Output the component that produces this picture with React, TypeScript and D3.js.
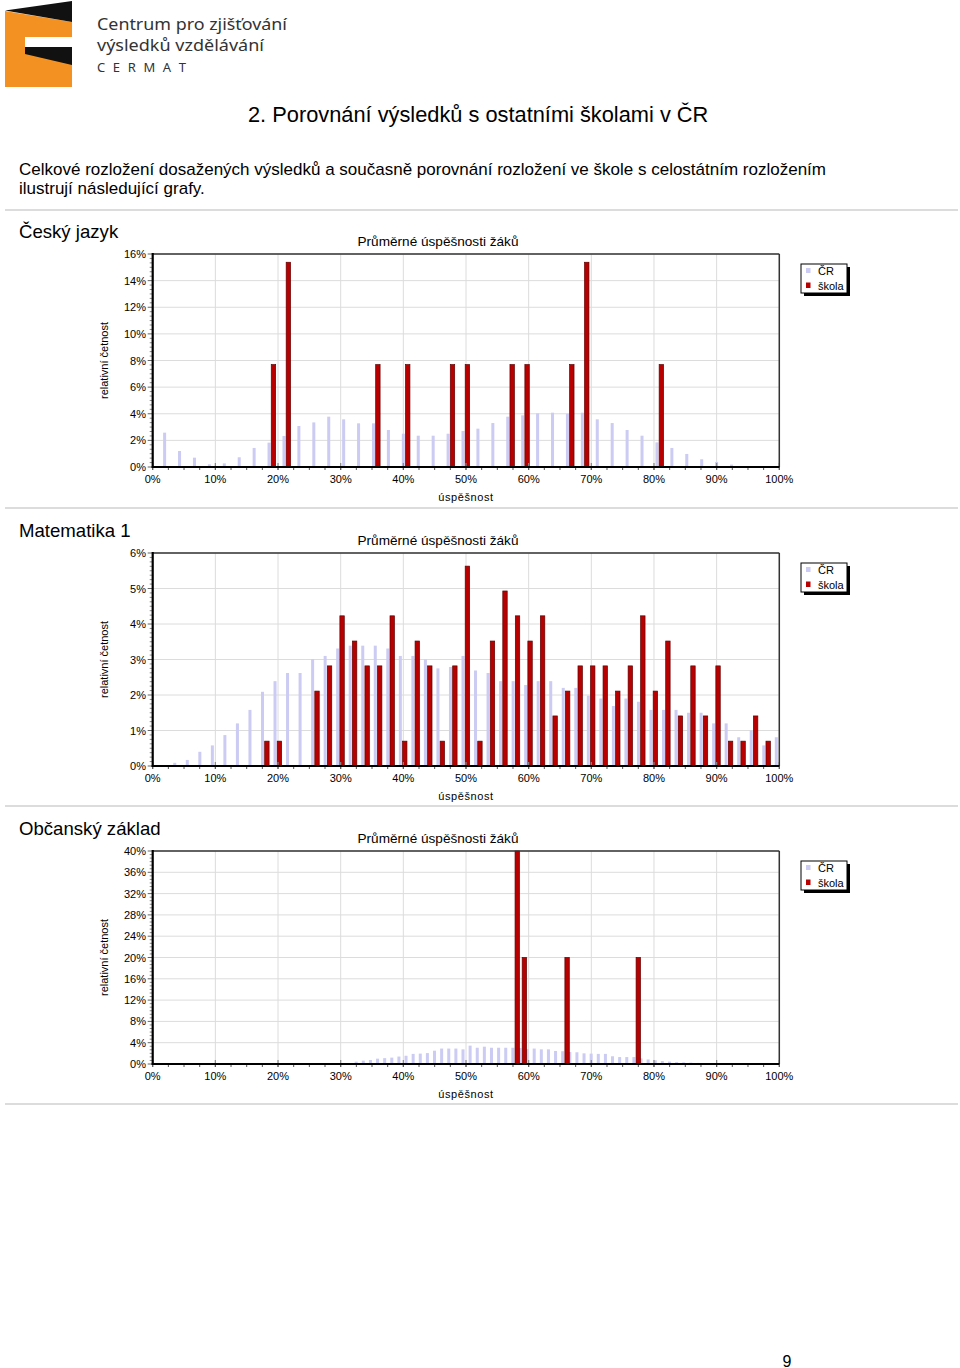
import React from "react";
import * as d3 from "d3";

// --- page text ---
const logoLines = ["Centrum pro zjišťování", "výsledků vzdělávání", "C E R M A T"];
const pageHeading = "2. Porovnání výsledků s ostatními školami v ČR";
const introLines = [
  "Celkové rozložení dosažených výsledků a současně porovnání rozložení ve škole s celostátním rozložením",
  "ilustrují následující grafy.",
];
const chartTitle = "Průměrné úspěšnosti žáků";
const xAxisLabel = "úspěšnost";
const yAxisLabel = "relativní četnost";
const legendLabels = ["ČR", "škola"];
const xTicks = [0, 10, 20, 30, 40, 50, 60, 70, 80, 90, 100];

// --- Český jazyk (score bins 0..42) ---
const cjMaxPoints = 42;
const cjCrFirst = 1;
const cjCr = [
  2.58, 1.2, 0.7, 0.2, 0.27, 0.73, 1.43, 1.83, 2.33, 3.08, 3.35, 3.78, 3.58, 3.28, 3.28, 2.78,
  2.5, 2.35, 2.35, 2.5, 2.7, 2.88, 3.3, 3.78, 3.88, 4.03, 4.08, 4.0, 4.08, 3.58, 3.3, 2.78,
  2.35, 1.85, 1.43, 0.98, 0.58, 0.38, 0.18, 0.05,
];
const cjSchoolPoints = [8, 9, 15, 17, 20, 21, 24, 25, 28, 29, 34];
const cjSchool = [7.69, 15.38, 7.69, 7.69, 7.69, 7.69, 7.69, 7.69, 7.69, 15.38, 7.69];
const cjYTicks = [0, 2, 4, 6, 8, 10, 12, 14, 16];

// --- Matematika 1 (score bins 0..50) ---
const mMaxPoints = 50;
const mCrFirst = 2;
const mCr = [
  0.09, 0.17, 0.4, 0.58, 0.87, 1.2, 1.58, 2.09, 2.39, 2.62, 2.62, 3.01, 3.1, 3.31, 3.39, 3.39,
  3.39, 3.31, 3.1, 3.1, 3.0, 2.75, 2.79, 3.1, 2.69, 2.62, 2.39, 2.39, 2.28, 2.39, 2.39, 2.2,
  2.2, 1.98, 1.9, 1.69, 1.9, 1.81, 1.58, 1.58, 1.58, 1.5, 1.5, 1.2, 1.2, 0.81, 1.0, 0.58, 0.81,
];
const mSchoolPoints = [
  9, 10, 13, 14, 15, 16, 17, 18, 19, 20, 21, 22, 23, 24, 25, 26, 27, 28, 29, 30, 31, 32, 33,
  34, 35, 36, 37, 38, 39, 40, 41, 42, 43, 44, 45, 46, 47, 48, 49,
];
const mSchool = [
  0.7, 0.7, 2.11, 2.82, 4.23, 3.52, 2.82, 2.82, 4.23, 0.7, 3.52, 2.82, 0.7, 2.82, 5.63, 0.7,
  3.52, 4.93, 4.23, 3.52, 4.23, 1.41, 2.11, 2.82, 2.82, 2.82, 2.11, 2.82, 4.23, 2.11, 3.52,
  1.41, 2.82, 1.41, 2.82, 0.7, 0.7, 1.41, 0.7,
];
const mYTicks = [0, 1, 2, 3, 4, 5, 6];

// --- Občanský základ (score bins 0..88) ---
const ozMaxPoints = 88;
const ozCrFirst = 29;
const ozCr = [
  0.44, 0.63, 0.75, 1.0, 1.1, 1.2, 1.4, 1.55, 1.9, 1.95, 2.05, 2.5, 2.9, 2.9, 2.9, 2.75, 3.45,
  3.05, 3.25, 3.05, 3.05, 3.05, 3.05, 3.0, 2.8, 2.9, 2.75, 2.75, 2.45, 2.4, 2.25, 2.2, 2.0,
  1.95, 1.9, 1.9, 1.45, 1.3, 1.3, 1.3, 1.05, 0.85, 0.7, 0.55, 0.45, 0.35, 0.3, 0.25, 0.2,
];
const ozSchoolPoints = [51, 52, 58, 68];
const ozSchool = [40, 20, 20, 20];
const ozYTicks = [0, 4, 8, 12, 16, 20, 24, 28, 32, 36, 40];

const FONT = "'Liberation Sans', Arial, sans-serif";
const CR_COLOR = "#cbcbf3";
const SCHOOL_COLOR = "#b80000";

const PLOT_LEFT = 152.7;
const PLOT_RIGHT = 779.3;
const PLOT_H = 213;

function Histogram({ top, name, maxPoints, crFirst, cr, schoolPoints, school, yTicks, yMinor }) {
  const x = d3.scaleLinear().domain([0, 100]).range([PLOT_LEFT, PLOT_RIGHT]);
  const y = d3.scaleLinear().domain([0, yTicks[yTicks.length - 1]]).range([top + PLOT_H, top]);
  const pos = (p) => x((p / maxPoints) * 100);
  const base = y(0);
  const step = yTicks[1] - yTicks[0];
  const minorY = [];
  yTicks.slice(0, -1).forEach((t) => {
    for (let k = 1; k < yMinor; k++) minorY.push(t + (step * k) / yMinor);
  });
  const minorX = d3.range(0, 100.01, 2.5);

  return (
    <g fontFamily={FONT}>
      <text x={19} y={top - 23} fontSize={18.6} dominantBaseline="central" fill="#000">
        {name}
      </text>
      <text x={438} y={top - 13} fontSize={13.6} textAnchor="middle" dominantBaseline="central">
        {chartTitle}
      </text>
      {/* grid */}
      {xTicks.map((t) => (
        <line key={"gx" + t} x1={x(t)} x2={x(t)} y1={top} y2={base} stroke="#dcdcdc" strokeWidth={1} />
      ))}
      {yTicks.map((t) => (
        <line key={"gy" + t} x1={PLOT_LEFT} x2={PLOT_RIGHT} y1={y(t)} y2={y(t)} stroke="#dcdcdc" strokeWidth={1} />
      ))}
      {/* CR bars */}
      {cr.map((v, i) => (
        <rect
          key={"cr" + i}
          x={pos(crFirst + i) - 4.5}
          y={y(v)}
          width={3}
          height={base - y(v)}
          fill={CR_COLOR}
        />
      ))}
      {/* school bars */}
      {school.map((v, i) => (
        <rect
          key={"sk" + i}
          x={pos(schoolPoints[i]) - 0.8}
          y={y(v)}
          width={4.4}
          height={base - y(v)}
          fill={SCHOOL_COLOR}
          stroke="#600000"
          strokeWidth={0.7}
        />
      ))}
      {/* inner major x ticks */}
      {xTicks.map((t) => (
        <line key={"tx" + t} x1={x(t)} x2={x(t)} y1={base - 4} y2={base + 3} stroke="#888" strokeWidth={1.2} />
      ))}
      {minorX.map((t) => (
        <line key={"mx" + t} x1={x(t)} x2={x(t)} y1={base} y2={base + 3} stroke="#555" strokeWidth={1} />
      ))}
      {/* y ticks */}
      {yTicks.map((t) => (
        <line key={"ty" + t} x1={PLOT_LEFT - 5} x2={PLOT_LEFT} y1={y(t)} y2={y(t)} stroke="#666" strokeWidth={1} />
      ))}
      {minorY.map((t, i) => (
        <line key={"my" + i} x1={PLOT_LEFT - 3} x2={PLOT_LEFT} y1={y(t)} y2={y(t)} stroke="#888" strokeWidth={1} />
      ))}
      {/* frame */}
      <line x1={PLOT_LEFT} x2={PLOT_RIGHT} y1={top} y2={top} stroke="#333" strokeWidth={1.5} />
      <line x1={PLOT_RIGHT} x2={PLOT_RIGHT} y1={top} y2={base} stroke="#333" strokeWidth={1.5} />
      <line x1={PLOT_LEFT} x2={PLOT_LEFT} y1={top - 1} y2={base + 1} stroke="#000" strokeWidth={2.2} />
      <line x1={PLOT_LEFT - 1} x2={PLOT_RIGHT} y1={base} y2={base} stroke="#000" strokeWidth={2.2} />
      {/* tick labels */}
      {yTicks.map((t) => (
        <text key={"ly" + t} x={146} y={y(t)} fontSize={11} textAnchor="end" dominantBaseline="central">
          {t + "%"}
        </text>
      ))}
      {xTicks.map((t) => (
        <text key={"lx" + t} x={x(t)} y={base + 12} fontSize={11} textAnchor="middle" dominantBaseline="central">
          {t + "%"}
        </text>
      ))}
      <text x={466} y={base + 30} fontSize={11} textAnchor="middle" dominantBaseline="central" letterSpacing={0.6}>
        {xAxisLabel}
      </text>
      <text
        transform={`translate(104, ${top + PLOT_H / 2}) rotate(-90)`}
        fontSize={11}
        textAnchor="middle"
        dominantBaseline="central"
      >
        {yAxisLabel}
      </text>
      {/* legend */}
      <rect x={804} y={top + 13} width={46} height={29} fill="#000" />
      <rect x={801} y={top + 10} width={46} height={29} fill="#fff" stroke="#000" strokeWidth={1} />
      <rect x={806} y={top + 14} width={4.5} height={5} fill={CR_COLOR} />
      <rect x={806} y={top + 28.5} width={4.5} height={5.5} fill={SCHOOL_COLOR} />
      <text x={818} y={top + 17} fontSize={11} dominantBaseline="central">
        {legendLabels[0]}
      </text>
      <text x={818} y={top + 31.5} fontSize={11} dominantBaseline="central">
        {legendLabels[1]}
      </text>
    </g>
  );
}

export default function App() {
  const separators = [210, 508, 806, 1104];
  return (
    <svg
      width={960}
      height={1368}
      viewBox="0 0 960 1368"
      style={{ position: "absolute", left: 0, top: 0, background: "#fff" }}
    >
      <rect width={960} height={1368} fill="#fff" />
      {/* logo */}
      <polygon points="5,11 72,22 72,37 25,37 25,47 72,47 72,87 5,87" fill="#f39223" />
      <polygon points="5,10.5 72,1 72,22" fill="#111" />
      <polygon points="25,47 72,47 72,65 25,54" fill="#111" />
      <g fontFamily="'Noto Sans', 'Open Sans', sans-serif" fill="#333">
        <text x={97} y={30} fontSize={16} textLength={190} lengthAdjust="spacingAndGlyphs">
          {logoLines[0]}
        </text>
        <text x={97} y={51} fontSize={16} textLength={167} lengthAdjust="spacingAndGlyphs">
          {logoLines[1]}
        </text>
        <text x={97} y={72} fontSize={13} textLength={89} lengthAdjust="spacing">
          {logoLines[2]}
        </text>
      </g>
      <g fontFamily={FONT}>
        <text x={248} y={114} fontSize={21.8} dominantBaseline="central">
          {pageHeading}
        </text>
        {introLines.map((l, i) => (
          <text key={i} x={19} y={169 + i * 19} fontSize={17} dominantBaseline="central">
            {l}
          </text>
        ))}
        <text x={787} y={1361} fontSize={16} textAnchor="middle" dominantBaseline="central">
          9
        </text>
      </g>
      {separators.map((s) => (
        <line key={s} x1={5} x2={958} y1={s} y2={s} stroke="#d0d0d0" strokeWidth={1.5} />
      ))}
      <Histogram
        top={254}
        name="Český jazyk"
        maxPoints={cjMaxPoints}
        crFirst={cjCrFirst}
        cr={cjCr}
        schoolPoints={cjSchoolPoints}
        school={cjSchool}
        yTicks={cjYTicks}
        yMinor={6}
      />
      <Histogram
        top={553}
        name="Matematika 1"
        maxPoints={mMaxPoints}
        crFirst={mCrFirst}
        cr={mCr}
        schoolPoints={mSchoolPoints}
        school={mSchool}
        yTicks={mYTicks}
        yMinor={8}
      />
      <Histogram
        top={851}
        name="Občanský základ"
        maxPoints={ozMaxPoints}
        crFirst={ozCrFirst}
        cr={ozCr}
        schoolPoints={ozSchoolPoints}
        school={ozSchool}
        yTicks={ozYTicks}
        yMinor={6}
      />
    </svg>
  );
}
